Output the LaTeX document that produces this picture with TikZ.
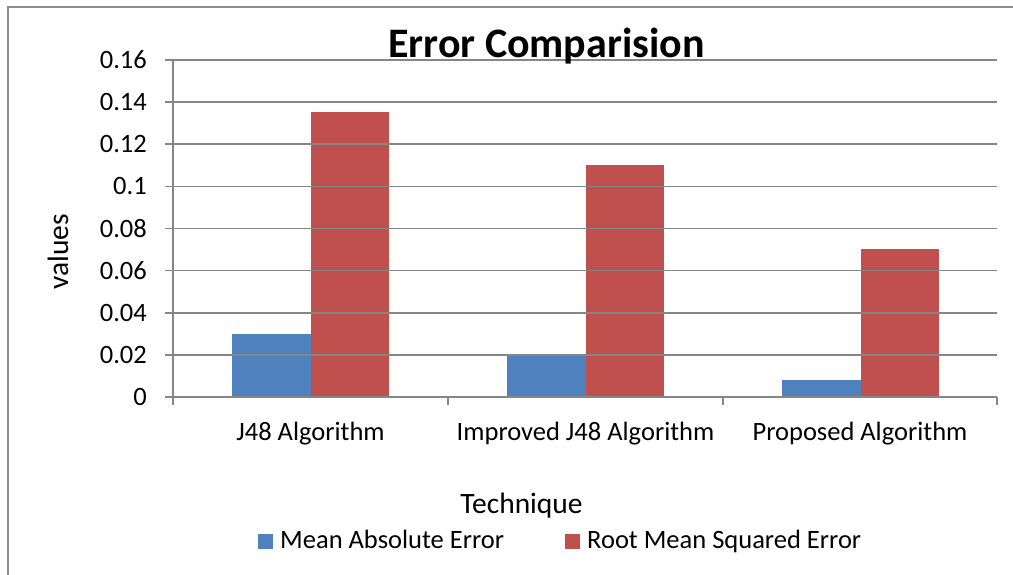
\documentclass[tikz,border=0pt]{standalone}
\usepackage{fontspec}
\setmainfont{Carlito}
\definecolor{barblue}{HTML}{4F81BD}
\definecolor{barred}{HTML}{C0504D}
\definecolor{axisgray}{HTML}{868686}
\definecolor{framegray}{HTML}{8C8C8C}
\tikzset{
  gridline/.style={draw=axisgray, line width=1.6pt},
  axisline/.style={draw=axisgray, line width=1.6pt},
  ticklabel/.style={anchor=east, inner sep=0pt, font=\fontsize{26.5}{30}\selectfont},
  catlabel/.style={anchor=base, inner sep=0pt, font=\fontsize{26.5}{30}\selectfont},
  axistitle/.style={inner sep=0pt, font=\fontsize{29.5}{33}\selectfont},
  legendtext/.style={anchor=base west, inner sep=0pt, font=\fontsize{26.5}{30}\selectfont},
  maebar/.style={fill=barblue},
  rmsebar/.style={fill=barred},
}
\begin{document}
\begin{tikzpicture}[x=1pt,y=-1pt]
\useasboundingbox (0,0) rectangle (1013,575);
% frame (top and left edges)
\draw[framegray, line width=1.5pt] (8,575) -- (8,7) -- (1013,7);
% bars
\def\yz{397}
\def\ys{2106}
\foreach \cs/\mae/\rmse in {173/0.030/0.1355, 448/0.0205/0.110, 723/0.0081/0.0705}{
  \fill[maebar] (\cs+59,\yz) rectangle (\cs+137.5,\yz-\mae*\ys);
  \fill[rmsebar] (\cs+137.5,\yz) rectangle (\cs+216,\yz-\rmse*\ys);
}
% gridlines and tick labels
\foreach \v/\lab [count=\i] in {0.02/0.02,0.04/0.04,0.06/0.06,0.08/0.08,0.10/0.1,0.12/0.12,0.14/0.14,0.16/0.16}{
  \draw[gridline] (165,\yz-\v*\ys) -- (997,\yz-\v*\ys);
  \node[ticklabel] (t\i) at (147,\yz-\v*\ys) {\lab};
}
\node[ticklabel] (t0) at (147,\yz) {0};
% axes
\draw[axisline] (173,\yz-0.16*\ys) -- (173,405);
\draw[axisline] (165,\yz) -- (997,\yz);
\foreach \x in {448,723,997}{
  \draw[axisline] (\x,\yz) -- (\x,405);
}
% category labels
\node[catlabel] (c1) at (310.5,440) {J48 Algorithm};
\node[catlabel] (c2) at (585.5,440) {Improved J48 Algorithm};
\node[catlabel] (c3) at (860,440) {Proposed Algorithm};
% titles
\node[anchor=base, inner sep=0pt, font=\fontsize{42}{46}\bfseries\selectfont] (title) at (546.5,58) {Error Comparision};
\node[axistitle, anchor=base] (xtitle) at (521.5,513) {Technique};
\node[axistitle, rotate=90] (ytitle) at (58,252) {values};
% legend
\fill[barblue] (258,534) rectangle (273,549);
\node[legendtext] (l1) at (280,548) {Mean Absolute Error};
\fill[barred] (565,534) rectangle (580,549);
\node[legendtext] (l2) at (587,548) {Root Mean Squared Error};
\end{tikzpicture}
\end{document}
